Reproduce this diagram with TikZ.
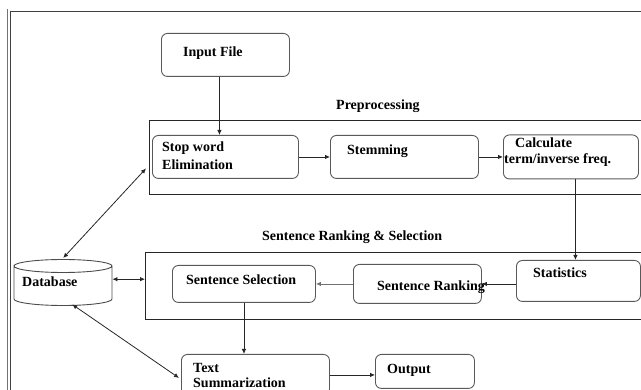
\documentclass[tikz,border=0pt]{standalone}
\usepackage{fontspec}
\setmainfont{Liberation Serif}
\usetikzlibrary{arrows.meta,calc}
\begin{document}
\begin{tikzpicture}[x=1pt,y=-1pt,
  box/.style={draw=black!65,line width=0.9pt,rounded corners=6pt,anchor=north west,inner sep=0pt},
  grp/.style={draw=black!85,line width=0.9pt,anchor=north west,inner sep=0pt},
  lbl/.style={anchor=base west,inner sep=0pt,font=\fontsize{14}{16}\selectfont\bfseries},
  arr/.style={draw=black!85,line width=0.8pt,-{Latex[length=5pt,width=4.5pt]}},
  darr/.style={draw=black!85,line width=0.8pt,{Latex[length=5pt,width=4.5pt]}-{Latex[length=5pt,width=4.5pt]}}]
\useasboundingbox (0,0) rectangle (641,390);
\clip (0,0) rectangle (641,390);
% outer frame
\draw[black!55,line width=0.9pt] (7.5,9) -- (7.5,400);
\draw[black!75,line width=0.9pt] (10.5,400) -- (10.5,11.5) -- (660,11.5);
% group rectangles
\node[grp,minimum width=520pt,minimum height=74pt] (pre) at (149,120) {};
\node[grp,minimum width=520pt,minimum height=67pt] (srs) at (145,252) {};
% boxes
\node[box,minimum width=128pt,minimum height=43pt] (input) at (161,33) {};
\node[box,minimum width=146pt,minimum height=43pt] (stop) at (152,135) {};
\node[box,minimum width=148pt,minimum height=43pt] (stem) at (330,135) {};
\node[box,minimum width=135pt,minimum height=44pt] (calc) at (503,134.5) {};
\node[box,minimum width=124pt,minimum height=41pt] (stat) at (516,260) {};
\node[box,minimum width=128pt,minimum height=39pt] (rank) at (353,264) {};
\node[box,minimum width=143pt,minimum height=37pt] (sel) at (172,265) {};
\node[box,minimum width=148pt,minimum height=41pt] (ts) at (181,354) {};
\node[box,minimum width=99pt,minimum height=34pt] (out) at (375,354) {};
% database cylinder
\node[anchor=north west,inner sep=0pt,minimum width=98pt,minimum height=42pt] (db) at (14,258) {};
\draw[black!70,line width=0.9pt] (14,266) arc[start angle=180,end angle=360,x radius=49,y radius=6.5]
  arc[start angle=0,end angle=180,x radius=49,y radius=6.5] -- (14,299)
  arc[start angle=180,end angle=0,x radius=49,y radius=6.5] -- (112,266);
% labels
\node[lbl] (tinput) at (183,57) {Input File};
\node[lbl] (tpre) at (336,110) {Preprocessing};
\node[lbl] (tstop1) at (162,152) {Stop word};
\node[lbl] (tstop2) at (162,170) {Elimination};
\node[lbl] (tstem) at (347,155) {Stemming};
\node[lbl] (tcalc1) at (515,148) {Calculate};
\node[lbl] (tcalc2) at (504,164) {term/inverse freq.};
\node[lbl] (tsrs) at (262,241) {Sentence Ranking \& Selection};
\node[lbl] (tstat) at (533,278) {Statistics};
\node[lbl] (trank) at (377,291) {Sentence Ranking};
\node[lbl] (tsel) at (186,285) {Sentence Selection};
\node[lbl] (tdb) at (22,287) {Database};
\node[lbl] (tts1) at (193,373) {Text};
\node[lbl] (tts2) at (193,388) {Summarization};
\node[lbl] (tout) at (387,374) {Output};
% connector helper coordinates
\coordinate (c1) at ($(calc.south)+(4.5,0)$);
\coordinate (c2) at (c1 |- stat.north);
\coordinate (t1) at ($(ts.east)+(0,0)$);
\coordinate (t2) at (t1 -| out.west);
% connectors
\draw[arr] ([xshift=-6pt]input.south) -- ([xshift=-6pt]stop.north);
\draw[arr] (stop.east) -- (stem.west);
\draw[arr] (stem.east) -- (stem.east -| calc.west);
\draw[arr] (c1) -- (c2);
\draw[arr] (stat.west |- rank.east) -- (rank.east);
\draw[arr,draw=black!55] (rank.west) -- (rank.west -| sel.east);
\draw[arr] (sel.south) -- (sel.south |- ts.north);
\draw[arr] (t1) -- (t2);
\draw[darr] (db.east) -- (db.east -| srs.west);
\draw[darr] (db.north) -- ($(pre.west)+(-3,11)$);
\draw[darr] ($(db.south)+(9,4)$) -- ($(ts.west)+(-2,3)$);
\end{tikzpicture}
\end{document}
